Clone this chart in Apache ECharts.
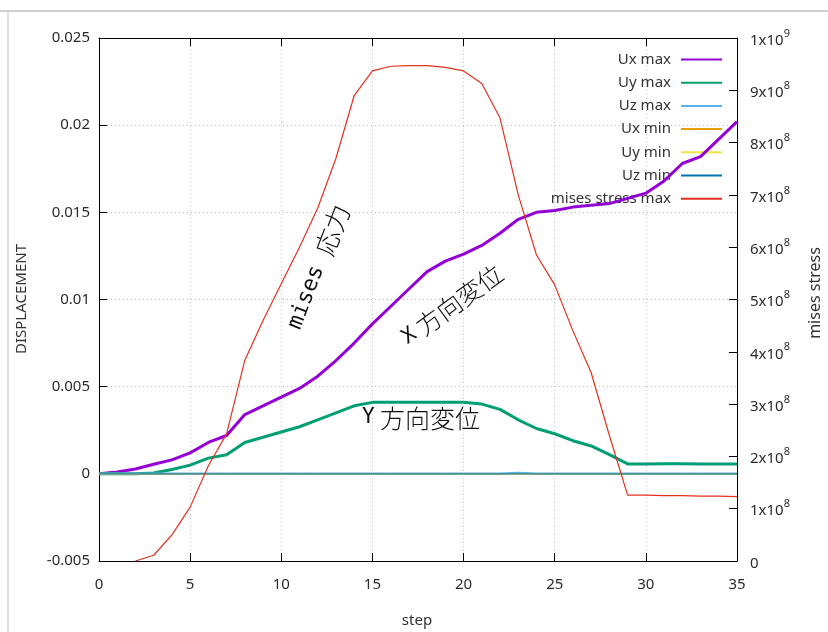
<!DOCTYPE html>
<html>
<head>
<meta charset="utf-8">
<script src="https://cdn.jsdelivr.net/npm/echarts@6/dist/echarts.min.js"></script>
<style>html,body{margin:0;padding:0;background:#fff}#c{width:828px;height:632px}</style>
</head>
<body>
<div id="c"></div>
<script>
const steps = [0,1,2,3,4,5,6,7,8,9,10,11,12,13,14,15,16,17,18,19,20,21,22,23,24,25,26,27,28,29,30,31,32,33,34,35];
const uxMax = [0,0.0001,0.00028,0.00055,0.0008,0.0012,0.0018,0.0022,0.0034,0.0039,0.0044,0.0049,0.0056,0.0065,0.0075,0.0086,0.0096,0.0106,0.0116,0.0122,0.0126,0.0131,0.0138,0.0146,0.0150,0.0151,0.0153,0.0154,0.0155,0.0158,0.0161,0.0168,0.0178,0.0182,0.0192,0.0202];
const uyMax = [0,0,0,0.00005,0.00025,0.0005,0.0009,0.0011,0.0018,0.0021,0.0024,0.0027,0.0031,0.0035,0.0039,0.0041,0.0041,0.0041,0.0041,0.0041,0.0041,0.0040,0.0037,0.0031,0.0026,0.0023,0.0019,0.0016,0.0011,0.00057,0.00057,0.00058,0.00058,0.00057,0.00057,0.00057];
const uzMax = [0,0,0,0,0,0,0,0,0,0,0,0,0,0,0,0,0,0,0,0,0,0,0,0.00005,0,0,0,0,0,0,0,0,0,0,0,0];
const uxMin = [0,0,0,0,0,0,0,0,0,0,0,0,0,0,0,0,0,0,0,0,0,0,0,0,0,0,0,0,0,0,0,0,0,0,0,0];
const uyMin = [0,0,0,0,0,0,0,0,0,0,0,0,0,0,0,0,0,0,0,0,0,0,0,0,0,0,0,0,0,0,0,0,0,0,0,0];
const uzMin = [0,0,0,0,0,0,0,0,0,0,0,0,0,0,0,0,0,0,0,0,0,0,0,0,0,0,0,0,0,0,0,0,0,0,0,0];
const misesMax = [null,null,0,0.11e8,0.5e8,1.03e8,1.82e8,2.43e8,3.84e8,4.6e8,5.3e8,6.0e8,6.75e8,7.7e8,8.9e8,9.37e8,9.46e8,9.47e8,9.47e8,9.44e8,9.37e8,9.13e8,8.47e8,7.0e8,5.85e8,5.28e8,4.4e8,3.6e8,2.4e8,1.26e8,1.26e8,1.25e8,1.25e8,1.24e8,1.24e8,1.23e8];
const seriesNames = ['Ux max','Uy max','Uz max','Ux min','Uy min','Uz min','mises stress max'];
const seriesColors = ['#9400d3','#009e73','#56b4e9','#e69f00','#f0e442','#0072b2','#e3301f'];
const seriesWidths = [3,3,2.5,1,1,1,1.2];
const seriesData = [uxMax,uyMax,uzMax,uxMin,uyMin,uzMin,misesMax];
const annotations = [
  {latin:'mises ', cjk:'応力', x:318, y:267, angle:69, ls:22, cs:26},
  {latin:'X', cjk:' 方向変位', x:452, y:305, angle:36, ls:21, cs:25},
  {latin:'Y', cjk:' 方向変位', x:421, y:418, angle:0, ls:21, cs:25}
];

const FONT = '"Noto Sans", sans-serif';
const chart = echarts.init(document.getElementById('c'), null, {renderer:'canvas'});
const grid = {left:99, right:91, top:38, bottom:71, containLabel:false};
const labelColor = '#2b2b2b';

const series = seriesNames.map((n,i)=>({
  name:n, type:'line', yAxisIndex: i===6 ? 1 : 0,
  data: steps.map((s,k)=>[s, seriesData[i][k]]),
  showSymbol:false, symbol:'none', smooth:false, connectNulls:false,
  lineStyle:{color:seriesColors[i], width:seriesWidths[i]},
  itemStyle:{color:seriesColors[i]},
  z: 3 + i, animation:false, clip:true
}));

const option = {
  animation:false,
  backgroundColor:'#fff',
  grid: grid,
  legend: {
    data: seriesNames, orient:'vertical', right:105, top:52, align:'right', padding:0,
    itemWidth:41, itemHeight:15, itemGap:8.2, z:1,
    itemStyle:{opacity:0},
    textStyle:{fontFamily:FONT, fontSize:15, color:'#333', lineHeight:15, padding:[0,5,0,0]}
  },
  xAxis: [
    {type:'value', min:0, max:35, interval:5, position:'bottom',
     axisLine:{show:true, onZero:false, lineStyle:{color:'#000', width:1}},
     axisTick:{show:true, inside:true, length:8, lineStyle:{color:'#000'}},
     axisLabel:{margin:16, fontFamily:FONT, fontSize:15, color:labelColor},
     splitLine:{show:true, lineStyle:{color:'#bdbdbd', type:[1,3], width:1}}},
    {type:'value', min:0, max:35, interval:5, position:'top',
     axisLine:{show:true, onZero:false, lineStyle:{color:'#000', width:1}},
     axisTick:{show:true, inside:true, length:8, lineStyle:{color:'#000'}},
     axisLabel:{show:false}, splitLine:{show:false}}
  ],
  yAxis: [
    {type:'value', min:-0.005, max:0.025, interval:0.005, position:'left',
     axisLine:{show:true, onZero:false, lineStyle:{color:'#000', width:1}},
     axisTick:{show:true, inside:true, length:8, lineStyle:{color:'#000'}},
     axisLabel:{margin:9, fontFamily:FONT, fontSize:15, color:labelColor,
       formatter:v=>String(+v.toFixed(3))},
     splitLine:{show:true, lineStyle:{color:'#bdbdbd', type:[1,3], width:1}}},
    {type:'value', min:0, max:1e9, interval:1e8, position:'right',
     axisLine:{show:true, onZero:false, lineStyle:{color:'#000', width:1}},
     axisTick:{show:true, inside:true, length:8, lineStyle:{color:'#000'}},
     axisLabel:{margin:13, fontFamily:FONT, fontSize:15, color:labelColor,
       formatter:v=>{
         if (v===0) return '{b|0}';
         if (v>=1e9-1) return '{b|1x10}{s|9}';
         return '{b|'+Math.round(v/1e8)+'x10}{s|8}';
       },
       rich:{
         b:{fontFamily:FONT, fontSize:15, color:labelColor, lineHeight:20, verticalAlign:'bottom'},
         s:{fontFamily:FONT, fontSize:11, color:labelColor, lineHeight:20, verticalAlign:'top'}
       }},
     splitLine:{show:false}}
  ],
  series: series,
  graphic: [
    {type:'line', shape:{x1:0,y1:11,x2:828,y2:11}, style:{stroke:'#cfcfcf', lineWidth:2}, z:0},
    {type:'line', shape:{x1:8,y1:12,x2:8,y2:632}, style:{stroke:'#d4d4d4', lineWidth:1.5}, z:0},
    {type:'text', x:22, y:299, rotation:Math.PI/2,
     style:{text:'DISPLACEMENT', fontFamily:FONT, fontSize:15, fill:'#333', align:'center', verticalAlign:'middle'}},
    {type:'text', x:815, y:293, rotation:Math.PI/2,
     style:{text:'mises stress', fontFamily:FONT, fontSize:16, fill:'#333', align:'center', verticalAlign:'middle'}},
    {type:'text', x:417, y:621,
     style:{text:'step', fontFamily:FONT, fontSize:15, fill:'#333', align:'center', verticalAlign:'middle'}}
  ].concat(annotations.map(a=>({
    type:'text', x:a.x, y:a.y, rotation:a.angle*Math.PI/180, z:100,
    style:{text:'{l|'+a.latin+'}{c|'+a.cjk+'}', align:'center', verticalAlign:'middle',
      rich:{
        l:{fontFamily:'"DejaVu Sans Mono",monospace', fontSize:a.ls, fill:'#111', fontWeight:300, lineHeight:30, verticalAlign:'middle'},
        c:{fontFamily:'"Noto Sans CJK JP",sans-serif', fontSize:a.cs, fill:'#111', fontWeight:300, lineHeight:30, verticalAlign:'middle'}
      }}
  })))
};
chart.setOption(option);
</script>
</body>
</html>
